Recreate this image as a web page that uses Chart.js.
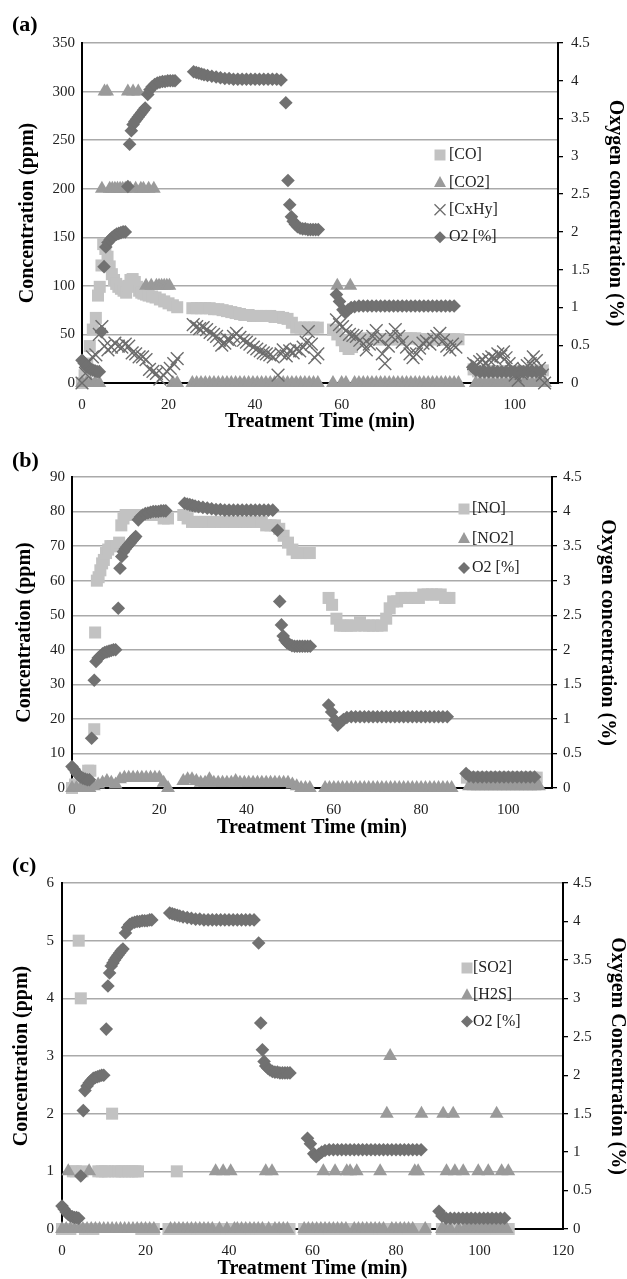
<!DOCTYPE html>
<html>
<head>
<meta charset="utf-8">
<title>Concentrations des gaz</title>
<script src="https://cdn.jsdelivr.net/npm/chart.js@4.4.1/dist/chart.umd.min.js"></script>
<style>
  body { margin: 0; background: #fff; }
  #wrap { position: relative; width: 627px; height: 1279px; }
  canvas { position: absolute; left: 0; }
</style>
</head>
<body>
<div id="wrap">
  <canvas id="chartA" width="627" height="440" style="top:0px"></canvas>
  <canvas id="chartB" width="627" height="410" style="top:440px"></canvas>
  <canvas id="chartC" width="627" height="429" style="top:850px"></canvas>
</div>
<script>
// Paliers de temps communs (min)
const tPhase2 = [25.5, 26.5, 27.5, 28.5, 29.5, 30.5, 31.5, 32.5, 33.5, 34.5, 35.5, 36.5, 37.5, 38.5, 39.5,
  40.5, 41.5, 42.5, 43.5, 44.5, 45.5, 46.5, 47.5, 48.5, 49.5, 50.5, 51.5, 52.5, 53.5, 54.5];
const tPhase3 = [58, 59, 60, 61, 62, 63, 64, 65, 66, 67, 68, 69, 70, 71, 72, 73, 74, 75, 76, 77,
  78, 79, 80, 81, 82, 83, 84, 85, 86, 87];
const tPhase4 = [91, 92, 93, 94, 95, 96, 97, 98, 99, 100, 101, 102, 103, 104, 105, 106, 107];
const tPhase4b = [90.5, 91.5, 92.5, 93.5, 94.5, 95.5, 96.5, 97.5, 98.5, 99.5, 100.5, 101.5, 102.5,
  103.5, 104.5, 105.5, 106.5];

// Oxygène (%) - même déroulé pour les trois essais
const timeO2 = [
  0, 0.5, 1, 1.5, 2, 2.5, 3, 3.5, 4, 4.5, 5.1, 5.5, 6, 6.5, 7, 7.5, 8, 8.5, 9, 9.5, 10,
  10.6, 11, 11.4, 11.8, 12.2, 12.6, 13, 13.4, 13.8, 14.2, 14.6, 15.2, 15.7, 16.2, 16.8,
  17.4, 18, 18.6, 19.2, 19.8, 20.4, 21, 21.5,
  25.8, 26.4, 27, 27.6, 28.2, 29, 30, 31, 32, 33, 34, 35, 36, 37, 38, 39, 40, 41, 42, 43,
  44, 45, 46, 47.1, 47.6, 48, 48.4, 48.8, 49.3, 49.8, 50.4, 51, 51.6, 52.2, 52.8, 53.4, 54, 54.6,
  58.8, 59.5, 60.3, 60.9, 61.5, 62.2, 63, 64, 65, 66, 67, 68, 69, 70, 71, 72, 73, 74, 75,
  76, 77, 78, 79, 80, 81, 82, 83, 84, 85, 86,
  90.3, 91, 92, 93, 94, 95, 96, 97, 98, 99, 100, 101, 102, 103, 104, 105, 106,
];
const o2A = [
  0.3, 0.26, 0.22, 0.2, 0.18, 0.17, 0.16, 0.15, 0.15, 0.68, 1.54, 1.8, 1.86, 1.9, 1.93, 1.95, 1.97, 1.98, 1.99, 2, 2,
  2.6, 3.16, 3.34, 3.42, 3.46, 3.49, 3.52, 3.55, 3.58, 3.61, 3.64, 3.82, 3.88, 3.92, 3.95,
  3.97, 3.98, 3.99, 3.99, 4, 4, 4, 4,
  4.12, 4.11, 4.1, 4.09, 4.08, 4.07, 4.06, 4.05, 4.04, 4.03, 4.03, 4.02, 4.02, 4.02, 4.02, 4.02, 4.02, 4.02, 4.02, 4.02,
  4.02, 4.02, 4.01, 3.71, 2.68, 2.36, 2.2, 2.14, 2.1, 2.07, 2.05, 2.04, 2.04, 2.03, 2.03, 2.03, 2.03, 2.03,
  1.17, 1.08, 0.97, 0.93, 0.97, 1, 1.01, 1.02, 1.02, 1.02, 1.02, 1.02, 1.02, 1.02, 1.02, 1.02, 1.02, 1.02, 1.02,
  1.02, 1.02, 1.02, 1.02, 1.02, 1.02, 1.02, 1.02, 1.02, 1.02, 1.02,
  0.21, 0.17, 0.15, 0.15, 0.15, 0.15, 0.15, 0.15, 0.15, 0.15, 0.15, 0.15, 0.15, 0.15, 0.15, 0.15, 0.15,
];
const o2B = [
  0.31, 0.27, 0.22, 0.19, 0.16, 0.14, 0.13, 0.12, 0.12, 0.72, 1.56, 1.83, 1.88, 1.91, 1.94, 1.96, 1.97, 1.98, 1.99, 2, 2,
  2.6, 3.18, 3.35, 3.42, 3.46, 3.49, 3.52, 3.55, 3.58, 3.61, 3.64, 3.88, 3.92, 3.95, 3.97,
  3.98, 3.99, 4, 4, 4, 4.01, 4.01, 4.01,
  4.12, 4.11, 4.1, 4.09, 4.08, 4.07, 4.06, 4.05, 4.04, 4.03, 4.03, 4.02, 4.02, 4.02, 4.02, 4.02, 4.02, 4.02, 4.02, 4.02,
  4.02, 4.02, 4.02, 3.73, 2.7, 2.36, 2.2, 2.14, 2.1, 2.08, 2.06, 2.05, 2.05, 2.05, 2.05, 2.05, 2.05, 2.05,
  1.2, 1.1, 0.98, 0.91, 0.95, 0.99, 1.02, 1.03, 1.03, 1.03, 1.03, 1.03, 1.03, 1.03, 1.03, 1.03, 1.03, 1.03, 1.03,
  1.03, 1.03, 1.03, 1.03, 1.03, 1.03, 1.03, 1.03, 1.03, 1.03, 1.03,
  0.21, 0.17, 0.16, 0.16, 0.16, 0.16, 0.16, 0.16, 0.16, 0.16, 0.16, 0.16, 0.16, 0.16, 0.16, 0.16, 0.16,
];
const o2C = [
  0.3, 0.26, 0.22, 0.19, 0.17, 0.16, 0.15, 0.15, 0.14, 0.69, 1.54, 1.8, 1.86, 1.9, 1.93, 1.96, 1.97, 1.98, 1.99, 2, 2,
  2.6, 3.16, 3.33, 3.42, 3.46, 3.5, 3.53, 3.56, 3.59, 3.62, 3.64, 3.85, 3.92, 3.96, 3.98,
  3.99, 4, 4, 4.01, 4.01, 4.01, 4.02, 4.02,
  4.11, 4.1, 4.09, 4.08, 4.07, 4.06, 4.05, 4.04, 4.03, 4.03, 4.02, 4.02, 4.02, 4.02, 4.02, 4.02, 4.02, 4.02, 4.02, 4.02,
  4.02, 4.02, 4.02, 3.72, 2.68, 2.33, 2.18, 2.12, 2.09, 2.07, 2.05, 2.04, 2.04, 2.03, 2.03, 2.03, 2.03, 2.03,
  1.18, 1.11, 0.98, 0.94, 0.97, 1, 1.02, 1.03, 1.03, 1.03, 1.03, 1.03, 1.03, 1.03, 1.03, 1.03, 1.03, 1.03, 1.03,
  1.03, 1.03, 1.03, 1.03, 1.03, 1.03, 1.03, 1.03, 1.03, 1.03, 1.03,
  0.23, 0.17, 0.14, 0.14, 0.14, 0.14, 0.14, 0.14, 0.14, 0.14, 0.14, 0.14, 0.14, 0.14, 0.14, 0.14, 0.14,
];

// (a) CO, CO2, CxHy en ppm
const timeCO = [0, 0.6, 1.2, 1.8, 2.5, 3.2, 3.7, 4.1, 4.5, 4.9, 5.4, 5.9, 6.4, 6.9, 7.4, 7.9, 8.4, 9, 9.6,
  10.2, 10.7, 11.2, 11.7, 12.2, 12.7, 13.2, 13.7, 14.2, 14.8, 15.4, 16.2, 17, 18, 19, 20, 21, 22]
  .concat(tPhase2, [58, 59, 60, 60.8, 61.6, 62.4, 63.2, 64, 65, 66, 67, 68, 69, 70, 71, 72, 73, 74,
    75, 76, 77, 78, 79, 80, 81, 82, 83, 84, 85, 86, 87], tPhase4b);
const co = [
  0, 8, 20, 38, 55, 67, 90, 99, 121, 143, 138, 130, 120, 112, 106, 102, 99, 97, 95,
  93, 100, 106, 107, 104, 99, 95, 93, 92, 91, 90, 89, 88, 86, 84, 82, 80, 78,
  77, 77, 77, 77, 77, 76, 76, 75, 74, 73, 72, 71, 70, 70, 69, 69, 69, 69, 69, 68, 68, 67, 66, 62, 57, 57, 57, 57, 57, 57,
  55, 50, 44, 38, 35, 37, 42, 45, 45, 46, 46, 45, 45, 45, 45, 45, 45, 45, 46, 46, 46, 45, 45, 45, 45, 45, 45, 45, 45, 45, 45,
  14, 12, 12, 12, 12, 12, 12, 12, 12, 12, 12, 12, 12, 12, 12, 12, 13,
];
const timeCO2 = [0, 1, 2, 3, 4, 4.6, 5.2, 5.8, 6.4, 7, 7.6, 8.2, 8.8, 9.4, 10, 10.6, 11.2, 11.8, 12.4,
  13, 13.6, 14.2, 14.8, 15.4, 16, 16.6, 17.2, 17.8, 18.4, 19, 19.6, 20.2, 21, 22]
  .concat(tPhase2, tPhase3, tPhase4);
const co2 = [
  0, 0, 0, 0, 0, 200, 300, 300, 200, 200, 200, 200, 200, 200, 200, 300, 200, 300, 200,
  300, 200, 200, 100, 200, 100, 200, 100, 100, 100, 100, 100, 100, 0, 0,
  0, 0, 0, 0, 0, 0, 0, 0, 0, 0, 0, 0, 0, 0, 0, 0, 0, 0, 0, 0, 0, 0, 0, 0, 0, 0, 0, 0, 0, 0,
  0, 100, 0, 0, 100, 0, 0, 0, 0, 0, 0, 0, 0, 0, 0, 0, 0, 0, 0, 0, 0, 0, 0, 0, 0, 0, 0, 0, 0, 0,
  0, 0, 0, 0, 0, 0, 0, 0, 0, 0, 0, 0, 0, 0, 0, 0, 0,
];
const timeCxHy = [
  0, 0.8, 1.6, 2.4, 3.2, 4, 4.6, 5.2, 6, 6.8, 7.6, 8.4, 9.2, 10, 10.8, 11.6, 12.4, 13.2, 14, 14.8,
  15.6, 16.4, 17.2, 18, 18.8, 19.6, 20.4, 21.2, 22,
  25.7, 26.5, 27.2, 28, 28.8, 29.6, 30.4, 31.1, 31.8, 32.3, 33, 33.6, 34.2, 35, 35.7, 36.5, 37.3, 38,
  38.8, 39.6, 40.4, 41.2, 41.9, 42.6, 43.4, 44.2, 45.3, 46, 46.5, 47.2, 48, 48.8, 49.5, 50.3, 51.1,
  51.8, 52.3, 53, 53.8, 54.5,
  58.8, 59.5, 60.2, 61, 61.8, 62.6, 63.4, 64.2, 65, 65.7, 66.4, 67.2, 68, 68.8, 69.4, 70, 70.8, 71.6,
  72.4, 73.2, 74, 75, 75.8, 76.5, 77.3, 78, 78.8, 79.6, 80.4, 81.3, 82, 82.7, 83.5, 84.3, 85, 85.6, 86.4,
  90.5, 91.2, 91.9, 92.6, 93.3, 94, 94.7, 95.4, 96.1, 96.8, 97.4, 98, 98.7, 99.4, 100.1, 100.8, 101.5,
  102.2, 102.9, 103.6, 104.3, 105, 105.7, 106.4, 106.9,
];
const cxhy = [
  0, 10, 22, 27, 29, 50, 58, 38, 34, 37, 41, 38, 37, 40, 38, 31, 30, 27, 27, 24,
  14, 12, 10, 4, 8, 12, 15, 20, 25,
  60, 58, 56, 57, 55, 52, 50, 48, 44, 39, 41, 45, 44, 48, 51, 47, 44, 42,
  40, 37, 35, 33, 31, 30, 29, 27, 8, 30, 34, 28, 33, 31, 35, 33, 37,
  42, 53, 40, 26, 30,
  65, 60, 58, 54, 50, 49, 48, 44, 40, 34, 40, 48, 54, 45, 30, 20, 38, 48,
  55, 48, 42, 37, 30, 26, 30, 36, 41, 43, 40, 45, 48, 51, 44, 38, 34, 40, 37,
  20, 18, 22, 24, 20, 24, 27, 25, 30, 28, 32, 26, 20, 15, 8, 3, 10,
  14, 18, 20, 27, 23, 15, 8, 0,
];

// (b) NO, NO2 en ppm
const timeNO = [0, 0.7, 1.4, 2.1, 2.8, 3.7, 4.2, 5.1, 5.3, 5.7, 6.1, 6.5, 6.9, 7.3, 7.8, 8.3, 8.8, 9.3,
  9.8, 10.3, 10.8, 11.3, 11.8, 12.3, 13, 13.7, 14.4, 15.1, 16, 17, 18, 19, 20, 21, 22]
  .concat(tPhase2, [58.8, 59.6, 60.6, 61.4, 62.2, 63, 64, 65, 66, 67, 68, 69, 70, 71, 72, 72.8, 73.6,
    74.5, 75.5, 76.5, 77.5, 78.5, 79.5, 80.5, 81.5, 82.5, 83.5, 84.5, 85.5, 86.5], tPhase4b);
const no = [
  0, 1, 1, 2, 3, 5, 5, 17, 45, 60, 61, 63, 65, 66, 68, 69, 70, 70,
  70, 70, 71, 76, 78, 79, 79, 79, 79, 79, 79, 79, 79, 79, 79, 78, 78,
  79, 78, 77, 77, 77, 77, 77, 77, 77, 77, 77, 77, 77, 77, 77, 77, 77, 77, 77, 76, 76, 76, 75, 73, 71, 69, 68, 68, 68, 68,
  55, 53, 49, 47, 47, 47, 47, 47, 48, 47, 47, 47, 47, 47, 49, 52, 54,
  54, 55, 55, 55, 55, 55, 56, 56, 56, 56, 56, 55, 55,
  3, 3, 3, 3, 3, 3, 3, 3, 3, 3, 3, 3, 3, 3, 3, 3, 3,
];
const timeNO2 = [0, 1, 2, 3, 4, 5, 6, 7, 8, 9, 10, 11, 12, 13, 14, 15, 16, 17, 18, 19, 20, 21, 22]
  .concat(tPhase2, tPhase3, tPhase4);
const no2 = [
  0, 0, 0, 0, 0, 0.5, 1, 1.5, 2, 1.5, 1, 2.5, 3, 3, 3, 3, 3, 3, 3, 3, 3, 1.5, 0,
  2, 2.5, 2.5, 2, 1.5, 1.5, 2.5, 1.5, 1.5, 1.5, 1.5, 1.5, 2, 1.5, 1.5, 1.5, 1.5, 1.5, 1.5, 1.5, 1.5, 1.5, 1.5, 1.5, 1.5, 1, 0.5, 0, 0, 0,
  0, 0, 0, 0, 0, 0, 0, 0, 0, 0, 0, 0, 0, 0, 0, 0, 0, 0, 0, 0, 0, 0, 0, 0, 0, 0, 0, 0, 0, 0,
  0.5, 0.5, 0.5, 0.5, 0.5, 0.5, 0.5, 0.5, 0.5, 0.5, 0.5, 0.5, 0.5, 0.5, 0.5, 0.5, 0.5,
];

// (c) SO2, H2S en ppm
const timeSO2 = [0, 1, 2, 2.6, 3.3, 4, 4.5, 4.9, 5.5, 6.5, 7.5, 8.7, 9.5, 10.3, 11, 12, 12.7, 13.5,
  14.3, 15.1, 16, 16.8, 17.6, 18.2, 19, 20, 21, 22]
  .concat(tPhase2, tPhase3, tPhase4);
const so2 = [
  0, 0, 0, 1, 1, 5, 4, 1, 0, 0, 0, 1, 1, 1, 1, 2, 1, 1, 1, 1, 1, 1, 1, 1, 0, 0, 0, 0,
  0, 0, 1, 0, 0, 0, 0, 0, 0, 0, 0, 0, 0, 0, 0, 0, 0, 0, 0, 0, 0, 0, 0, 0, 0, 0, 0, 0, 0, 0,
  0, 0, 0, 0, 0, 0, 0, 0, 0, 0, 0, 0, 0, 0, 0, 0, 0, 0, 0, 0, 0, 0, 0, 0, 0, 0, 0, 0, 0, 0,
  0, 0, 0, 0, 0, 0, 0, 0, 0, 0, 0, 0, 0, 0, 0, 0, 0,
];
const timeH2S = [
  0, 1, 1.5, 2, 3, 4, 5, 6, 6.5, 7, 8, 9, 10, 11, 12, 13, 14, 15, 16, 17, 18, 19, 20, 21, 22,
  26, 27, 28, 29, 30, 31, 32, 33, 34, 35, 36, 36.8, 37.7, 38.6, 39.5, 40.4, 41.3, 42, 43, 44, 45,
  46, 47, 48, 48.8, 49.5, 50.3, 51, 52, 53, 54,
  58, 59, 60, 61, 62, 62.6, 63, 64, 65, 65.4, 66, 67, 68, 68.2, 69, 70, 70.6, 71, 72, 73, 74, 75,
  76, 76.2, 77, 77.8, 78.6, 79, 80, 81, 82, 83, 84, 84.5, 85.3, 86.1, 87,
  91, 91.3, 91.8, 92.1, 93, 93.7, 94.1, 95, 96.1, 96.5, 97.5, 98.5, 99.5, 99.7, 100.5, 101.5, 102.1,
  102.5, 103.5, 104.1, 104.5, 105.3, 105.5, 106.5, 106.9,
];
const h2s = [
  0, 0, 1, 0, 0, 0, 0, 0, 1, 0, 0, 0, 0, 0, 0, 0, 0, 0, 0, 0, 0, 0, 0, 0, 0,
  0, 0, 0, 0, 0, 0, 0, 0, 0, 0, 0, 1, 0, 1, 0, 1, 0, 0, 0, 0, 0,
  0, 0, 0, 1, 0, 1, 0, 0, 0, 0,
  0, 0, 0, 0, 0, 1, 0, 0, 0, 1, 0, 0, 0, 1, 1, 0, 1, 0, 0, 0, 0, 0,
  0, 1, 0, 2, 3, 0, 0, 0, 0, 0, 0, 1, 1, 2, 0,
  0, 2, 0, 1, 0, 2, 1, 0, 1, 0, 0, 0, 0, 1, 0, 0, 1,
  0, 0, 2, 0, 1, 0, 0, 1,
];

const FONT = "Liberation Serif";
const GRIS_CARRE = "#c2c2c2";
const GRIS_TRIANGLE = "#9a9a9a";
const GRIS_CROIX = "#6c6c6c";
const GRIS_LOSANGE = "#717171";

function pts(xs, ys) {
  return xs.map((x, i) => ({ x: x, y: ys[i] }));
}

function serie(label, xs, ys, style, color, radius, axis, order) {
  return {
    label: label,
    data: pts(xs, ys),
    yAxisID: axis,
    pointStyle: style,
    pointRadius: radius,
    pointHoverRadius: radius,
    backgroundColor: color,
    borderColor: color,
    borderWidth: style === "crossRot" ? 1.4 : 0,
    order: order,
    clip: false,
  };
}

// Marqueurs de la légende intérieure
function drawMarker(ctx, style, x, y, color) {
  ctx.fillStyle = color;
  ctx.strokeStyle = color;
  ctx.lineWidth = 1.3;
  ctx.beginPath();
  if (style === "rect") {
    ctx.rect(x - 5.5, y - 5.5, 11, 11);
    ctx.fill();
  } else if (style === "triangle") {
    ctx.moveTo(x, y - 6.5);
    ctx.lineTo(x + 6, y + 4.5);
    ctx.lineTo(x - 6, y + 4.5);
    ctx.closePath();
    ctx.fill();
  } else if (style === "crossRot") {
    ctx.moveTo(x - 5.5, y - 5.5);
    ctx.lineTo(x + 5.5, y + 5.5);
    ctx.moveTo(x + 5.5, y - 5.5);
    ctx.lineTo(x - 5.5, y + 5.5);
    ctx.stroke();
  } else {
    ctx.moveTo(x, y - 6);
    ctx.lineTo(x + 6, y);
    ctx.lineTo(x, y + 6);
    ctx.lineTo(x - 6, y);
    ctx.closePath();
    ctx.fill();
  }
}

const panelPlugin = {
  id: "panel",
  afterDraw(chart, args, opts) {
    const ctx = chart.ctx;
    ctx.save();
    ctx.textBaseline = "middle";
    ctx.textAlign = "left";
    ctx.fillStyle = "#000";
    ctx.font = "bold 22px '" + FONT + "'";
    ctx.fillText(opts.label, opts.labelX, opts.labelY);
    ctx.font = "16px '" + FONT + "'";
    chart.data.datasets.forEach((ds, i) => {
      const y = opts.legendY + i * opts.legendGap;
      drawMarker(ctx, ds.pointStyle, opts.markerX, y, ds.backgroundColor);
      ctx.fillStyle = "#222";
      ctx.fillText(ds.label, opts.textX, y);
    });
    ctx.restore();
  },
};

function buildPanel(id, p) {
  const tickFont = { family: FONT, size: 15 };
  const titleFont = { family: FONT, size: 20, weight: "bold", lineHeight: 1 };
  const ctx = document.getElementById(id).getContext("2d");
  return new Chart(ctx, {
    type: "scatter",
    data: { datasets: p.datasets },
    options: {
      responsive: false,
      maintainAspectRatio: false,
      animation: false,
      layout: { padding: { top: p.top, left: 0, right: 0, bottom: 0 } },
      plugins: {
        legend: { display: false },
        tooltip: { enabled: false },
        panel: p.panel,
      },
      scales: {
        x: {
          type: "linear",
          min: 0,
          max: p.xMax,
          ticks: { stepSize: 20, includeBounds: false, font: tickFont, color: "#222", padding: 5, maxRotation: 0 },
          grid: { display: false },
          border: { color: "#000", width: 2 },
          title: { display: true, text: "Treatment Time (min)", font: titleFont, color: "#000", padding: { top: 0, bottom: p.xTitlePad } },
          afterFit: (s) => { s.height = p.xHeight; },
        },
        y: {
          type: "linear",
          position: "left",
          min: 0,
          max: p.yMax,
          ticks: { stepSize: p.yStep, font: tickFont, color: "#222", padding: p.yTickPad },
          grid: { color: "#aaaaaa", lineWidth: 1.4, drawTicks: false },
          border: { color: "#000", width: 2 },
          title: { display: true, text: "Concentration (ppm)", font: titleFont, color: "#000", padding: { top: p.yTitlePad, bottom: 0 } },
          afterFit: (s) => { s.width = p.leftWidth; },
        },
        y1: {
          type: "linear",
          position: "right",
          min: 0,
          max: 4.5,
          ticks: { stepSize: 0.5, font: tickFont, color: "#222", padding: p.y1TickPad, callback: (v) => String(v) },
          grid: { drawOnChartArea: false, drawTicks: true, tickLength: 5, color: "#000", lineWidth: 1.3 },
          border: { color: "#000", width: 2 },
          title: { display: true, text: p.rightTitle, font: titleFont, color: "#000", padding: { top: p.y1TitlePad, bottom: 0 } },
          afterFit: (s) => { s.width = p.rightWidth; },
        },
      },
    },
    plugins: [panelPlugin],
  });
}

// (a)
buildPanel("chartA", {
  datasets: [
    serie("[CO]", timeCO, co, "rect", GRIS_CARRE, 8.5, "y", 3),
    serie("[CO2]", timeCO2, co2, "triangle", GRIS_TRIANGLE, 8, "y", 2),
    serie("[CxHy]", timeCxHy, cxhy, "crossRot", GRIS_CROIX, 9, "y", 1),
    serie("O2 [%]", timeO2, o2A, "rectRot", GRIS_LOSANGE, 6.8, "y1", 0),
  ],
  top: 43, xMax: 110, xHeight: 57, xTitlePad: 8,
  yMax: 350, yStep: 50, leftWidth: 82, yTitlePad: 18, yTickPad: 7,
  rightWidth: 69, y1TitlePad: 2, y1TickPad: 8,
  rightTitle: "Oxygen concentration (%)",
  panel: { label: "(a)", labelX: 12, labelY: 25, markerX: 440, textX: 449, legendY: 155, legendGap: 27.4 },
});

// (b)
buildPanel("chartB", {
  datasets: [
    serie("[NO]", timeNO, no, "rect", GRIS_CARRE, 8.5, "y", 2),
    serie("[NO2]", timeNO2, no2, "triangle", GRIS_TRIANGLE, 8, "y", 1),
    serie("O2 [%]", timeO2, o2B, "rectRot", GRIS_LOSANGE, 6.8, "y1", 0),
  ],
  top: 37, xMax: 110, xHeight: 62, xTitlePad: 12,
  yMax: 90, yStep: 10, leftWidth: 72, yTitlePad: 15, yTickPad: 7,
  rightWidth: 75, y1TitlePad: 10, y1TickPad: 6,
  rightTitle: "Oxygen concentration (%)",
  panel: { label: "(b)", labelX: 12, labelY: 21, markerX: 464, textX: 472, legendY: 69, legendGap: 29.5 },
});

// (c)
buildPanel("chartC", {
  datasets: [
    serie("[SO2]", timeSO2, so2, "rect", GRIS_CARRE, 8.5, "y", 2),
    serie("[H2S]", timeH2S, h2s, "triangle", GRIS_TRIANGLE, 8, "y", 1),
    serie("O2 [%]", timeO2, o2C, "rectRot", GRIS_LOSANGE, 6.8, "y1", 0),
  ],
  top: 33, xMax: 120, xHeight: 50, xTitlePad: 0,
  yMax: 6, yStep: 1, leftWidth: 62, yTitlePad: 12, yTickPad: 8,
  rightWidth: 64, y1TitlePad: 0, y1TickPad: 5,
  rightTitle: "Oxygem Concentration (%)",
  panel: { label: "(c)", labelX: 12, labelY: 16, markerX: 467, textX: 473, legendY: 118, legendGap: 26.7 },
});
</script>
</body>
</html>
